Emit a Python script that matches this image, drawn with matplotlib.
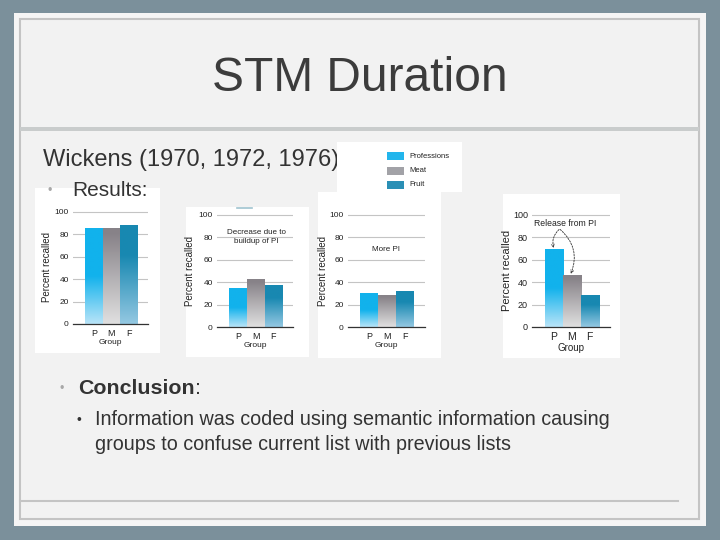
import matplotlib
matplotlib.use('Agg')
import matplotlib.pyplot as plt
import numpy as np
from matplotlib.patches import Rectangle

plt.rcParams['font.family'] = ['Liberation Sans', 'DejaVu Sans']

# ---------------- data ----------------
groups = ['P', 'M', 'F']
series_names = ['Professions', 'Meat', 'Fruit']
trial1 = [85, 85, 88]
trial2 = [34, 42, 37]
trial3 = [30, 28, 32]
trial4 = [69, 46, 28]
yticks = [0, 20, 40, 60, 80, 100]

title = 'STM Duration'
line1 = 'Wickens (1970, 1972, 1976)'
results_label = 'Results:'
conclusion_label = 'Conclusion'
conclusion_text = ('Information was coded using semantic information causing\n'
                   'groups to confuse current list with previous lists')

# ---------------- styles ----------------
top_cols = ['#12b2ec', '#878288', '#1888b1']
bot_cols = ['#b8e4f8', '#e0e0e0', '#94c8e2']
solid_frac = [0.5, 0.05, 0.3]
legend_cols = ['#22b5ec', '#a2a2a7', '#2a8fb5']

W, H = 720, 540
fig = plt.figure(figsize=(7.2, 5.4), dpi=100)
fig.patch.set_facecolor('#7b909b')
bg = fig.add_axes([0, 0, 1, 1])
bg.set_xlim(0, W)
bg.set_ylim(H, 0)
bg.axis('off')

bg.add_patch(Rectangle((14, 13), 692, 513, fc='#f5f5f5', ec='none', zorder=0))
bg.add_patch(Rectangle((20, 19), 679, 500, fc='#f2f2f2', ec='#c4c4c4', lw=1.5, zorder=0.5))
bg.add_patch(Rectangle((20, 127), 679, 4, fc='#c9cccc', ec='none', zorder=0.6))
bg.plot([20, 678], [501, 501], color='#c4c4c4', lw=1.5, zorder=0.6)

# white picture boxes behind the charts
boxes = [(35, 188, 125, 165), (186, 207, 123, 150), (318, 192, 123, 166), (503, 194, 117, 164)]
for (bx, by, bw, bh) in boxes:
    bg.add_patch(Rectangle((bx, by), bw, bh, fc='white', ec='none', zorder=1))
bg.plot([237, 252], [208, 208], color='#9fc3cf', lw=1.2, zorder=1.5)

# slide text
bg.text(360, 91, title, ha='center', va='baseline', fontsize=34.5, color='#3c3c3c', zorder=2)
bg.text(43, 160, line1, ha='left', va='center', fontsize=17, color='#333333', zorder=2)
bg.text(50, 191, '•', ha='center', va='center', fontsize=9, color='#a8a8a8', zorder=2)
bg.text(72, 191, results_label, ha='left', va='center', fontsize=15, color='#333333', zorder=2)
bg.text(62, 389, '•', ha='center', va='center', fontsize=9, color='#a8a8a8', zorder=2)
t = bg.text(78, 389, conclusion_label, ha='left', va='center', fontsize=15.4,
            fontweight='bold', color='#333333', zorder=2)
bg.annotate(':', xycoords=t, xy=(1, 0.5), va='center', ha='left', fontsize=15.4,
            color='#333333', zorder=2)
bg.text(79, 420, '•', ha='center', va='center', fontsize=10, color='#333333', zorder=2)
bg.text(95, 432, conclusion_text, ha='left', va='center', fontsize=14.2,
        color='#333333', linespacing=1.38, zorder=2)

# legend picture (covers end of the Wickens line)
bg.add_patch(Rectangle((337, 142), 125, 50, fc='white', ec='none', zorder=3))
for i, name in enumerate(series_names):
    yy = 156 + i * 14.5
    bg.add_patch(Rectangle((387, yy - 4), 17, 8, fc=legend_cols[i], ec='none', zorder=4))
    bg.text(409, yy, name, ha='left', va='center', fontsize=5.5, color='#222222', zorder=4)


def grad_img(top, bot, frac, n=100):
    tc = np.array(matplotlib.colors.to_rgb(top))
    bc = np.array(matplotlib.colors.to_rgb(bot))
    t = np.linspace(0, 1, n)  # 0 bottom .. 1 top
    edge = 1 - frac
    w = np.clip(t / max(edge, 1e-6), 0, 1)
    img = bc[None, :] + (tc - bc)[None, :] * w[:, None]
    return img[:, None, :]


def chart(vals, x0, x1, y0, y100, lab_x, tick_fs=6, lab_fs=7, xt_fs=6.5):
    ax = fig.add_axes([x0 / W, 1 - y0 / H, (x1 - x0) / W, (y0 - y100) / H])
    ax.set_facecolor('none')
    xs = np.arange(len(groups))
    bars = ax.bar(xs, vals, width=1.0, color='none', edgecolor='none', zorder=2)
    for i, b in enumerate(bars):
        ax.imshow(grad_img(top_cols[i], bot_cols[i], solid_frac[i]), origin='lower',
                  extent=[b.get_x(), b.get_x() + b.get_width(), 0, b.get_height()],
                  aspect='auto', zorder=2, interpolation='bilinear')
    ax.set_xlim(-1.2, 3.12)
    ax.set_ylim(0, 100.8)
    ax.set_yticks(yticks)
    ax.set_xticks(xs)
    ax.set_xticklabels(groups)
    ax.yaxis.grid(True, color='#c4c4c4', lw=0.8)
    ax.set_axisbelow(True)
    for s in ['left', 'right', 'top']:
        ax.spines[s].set_visible(False)
    ax.spines['bottom'].set_color('#333333')
    ax.spines['bottom'].set_linewidth(0.9)
    ax.tick_params(axis='y', length=0, pad=3, labelsize=tick_fs, labelcolor='#222222')
    ax.tick_params(axis='x', length=0, pad=3.5, labelsize=xt_fs, labelcolor='#222222')
    ax.set_ylabel('Percent recalled', fontsize=lab_fs, color='#222222')
    ax.yaxis.set_label_coords((lab_x - x0) / (x1 - x0), 0.5)
    ax.set_xlabel('Group', fontsize=xt_fs - 0.5, color='#222222', labelpad=1)
    return ax


chart(trial1, 73, 148, 324, 211, 52)
ax2 = chart(trial2, 217, 293, 327, 214, 195)
ax2.text(1.05, 80, 'Decrease due to\nbuildup of PI', ha='center', va='center',
         fontsize=5.8, color='#222222', linespacing=1.35)
ax3 = chart(trial3, 348, 425, 327, 214, 328)
ax3.text(0.94, 69, 'More PI', ha='center', va='center', fontsize=5.8, color='#222222')
ax4 = chart(trial4, 532, 610, 327, 214, 512, tick_fs=6.5, lab_fs=8, xt_fs=7.5)
ax4.text(0.62, 92, 'Release from PI', ha='center', va='center', fontsize=6.2, color='#222222')
ax4.annotate('', xy=(0.0, trial4[0] + 1.5), xytext=(0.3, 87),
             arrowprops=dict(arrowstyle='->', ls=(0, (2, 1.5)), lw=0.6, color='#333333',
                             connectionstyle='arc3,rad=0.3', mutation_scale=5, shrinkA=0, shrinkB=0))
ax4.annotate('', xy=(0.95, trial4[1] + 1.5), xytext=(0.36, 87),
             arrowprops=dict(arrowstyle='->', ls=(0, (2, 1.5)), lw=0.6, color='#333333',
                             connectionstyle='arc3,rad=-0.35', mutation_scale=5, shrinkA=0, shrinkB=0))

fig.savefig('out.png', dpi=100, facecolor=fig.get_facecolor())
